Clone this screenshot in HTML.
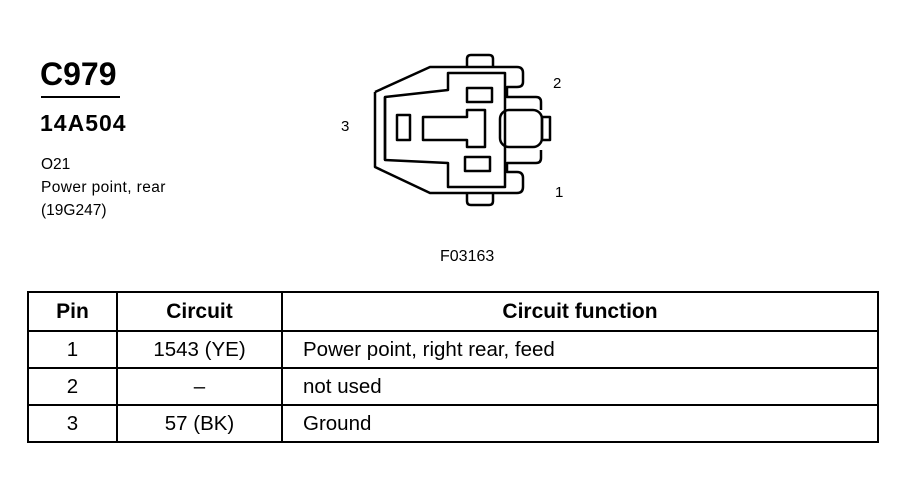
<!DOCTYPE html>
<html><head><meta charset="utf-8"><style>
body{margin:0;background:#fff;width:904px;height:480px;overflow:hidden;font-family:"Liberation Sans",Arial,sans-serif;color:#000}
.t{position:absolute;white-space:nowrap;line-height:1}
table{position:absolute;left:27px;top:291px;border-collapse:collapse;width:852px}
td{border:2px solid #000;font-size:20.5px;height:35px;padding:0;text-align:center}
th{border:2px solid #000;font-size:21px;height:35px;font-weight:bold}
</style></head><body>
<div class="t" style="left:40px;top:58px;font-size:32px;font-weight:bold">C979</div>
<div style="position:absolute;left:41px;top:96px;width:79px;height:2px;background:#000"></div>
<div class="t" style="left:40px;top:112px;font-size:23px;font-weight:bold;letter-spacing:1px">14A504</div>
<div class="t" style="left:41px;top:157px;font-size:15.5px">O21</div>
<div class="t" style="left:41px;top:180px;font-size:15.5px;letter-spacing:0.4px">Power point, rear</div>
<div class="t" style="left:41px;top:203px;font-size:15.5px">(19G247)</div>
<div class="t" style="left:341px;top:119px;font-size:15px">3</div>
<div class="t" style="left:553px;top:76px;font-size:15px">2</div>
<div class="t" style="left:555px;top:185px;font-size:15px">1</div>
<div class="t" style="left:440px;top:249px;font-size:16px">F03163</div>
<svg style="position:absolute;left:0;top:0" width="904" height="480" fill="none" stroke="#000" stroke-width="2.5" stroke-linejoin="round">
<path d="M467 67 V59 Q467 55 471 55 H489 Q493 55 493 59 V67"/>
<path d="M467 193 V201 Q467 205 471 205 H489 Q493 205 493 201 V193"/>
<path d="M375 92 L430 67 H517 Q523 67 523 73 V82 Q523 87 517 87 H507 V97 H536 Q541 97 541 102 V110"/>
<path d="M375 92 V167 L430 193 H517 Q523 193 523 187 V178 Q523 172 517 172 H507 V163 H536 Q541 163 541 158 V150"/>
<path d="M385 97 L448 90 V73 H505 V187 H448 V163 L385 160 Z"/>
<line x1="385" y1="97" x2="385" y2="160"/>
<rect x="500" y="110" width="42" height="37" rx="9"/>
<rect x="542" y="117" width="8" height="23"/>
<rect x="467" y="88" width="25" height="14"/>
<rect x="465" y="157" width="25" height="14"/>
<rect x="397" y="115" width="13" height="25"/>
<path d="M423 117 H467 V110 H485 V147 H467 V140 H423 Z"/>
</svg>
<table>
<tr><th style="width:85px">Pin</th><th style="width:161px">Circuit</th><th>Circuit function</th></tr>
<tr><td>1</td><td>1543 (YE)</td><td style="text-align:left;padding-left:20px">Power point, right rear, feed</td></tr>
<tr><td>2</td><td>–</td><td style="text-align:left;padding-left:20px">not used</td></tr>
<tr><td>3</td><td>57 (BK)</td><td style="text-align:left;padding-left:20px">Ground</td></tr>
</table>
</body></html>
